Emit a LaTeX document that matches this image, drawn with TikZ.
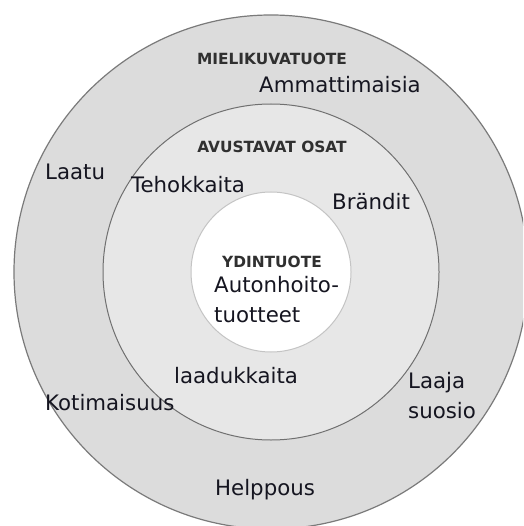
\documentclass[tikz,border=0pt]{standalone}
\usepackage{fontspec}
\setmainfont{DejaVu Sans}
\definecolor{outerfill}{HTML}{DCDCDC}
\definecolor{midfill}{HTML}{E7E7E7}
\definecolor{outerline}{HTML}{7A7A7A}
\definecolor{midline}{HTML}{707070}
\definecolor{innerline}{HTML}{C4C4C4}
\definecolor{labeltext}{HTML}{151520}
\definecolor{titletext}{HTML}{303030}
\tikzset{
  lbl/.style={inner sep=0pt, anchor=base west, text=labeltext, font=\fontsize{21.3}{25}\selectfont},
  ttl/.style={inner sep=0pt, anchor=base, text=titletext, font=\fontsize{15.4}{18}\selectfont\bfseries},
}
\begin{document}
\begin{tikzpicture}[x=1pt,y=-1pt]
\useasboundingbox (0,0) rectangle (523,526);
\clip (0,0) rectangle (523,526);
\fill[white] (0,0) rectangle (523,526);
\coordinate (c) at (271,272);
\filldraw[fill=outerfill, draw=outerline, line width=1.2pt] (c) circle[radius=257];
\filldraw[fill=midfill, draw=midline, line width=1pt] (c) circle[radius=168];
\filldraw[fill=white, draw=innerline, line width=1pt] (c) circle[radius=80];
% titles
\node[ttl] (t1) at (272,65) {MIELIKUVATUOTE};
\node[ttl] (t2) at (272,153) {AVUSTAVAT OSAT};
\node[ttl] (t3) at (272,267) {YDINTUOTE};
% labels
\node[lbl] (ammatti) at (259,93) {Ammattimaisia};
\node[lbl] (laatu) at (45,180) {Laatu};
\node[lbl] (teho) at (131,193) {Tehokkaita};
\node[lbl] (brandit) at (332,210) {Brändit};
\node[lbl] (auto1) at (214,292) {Autonhoito-};
\node[lbl] (auto2) at (214,322) {tuotteet};
\node[lbl] (laadu) at (174,383) {laadukkaita};
\node[lbl] (koti) at (45,410) {Kotimaisuus};
\node[lbl] (laaja1) at (408,388) {Laaja};
\node[lbl] (laaja2) at (408,418) {suosio};
\node[lbl] (help) at (215,495) {Helppous};
\end{tikzpicture}
\end{document}
